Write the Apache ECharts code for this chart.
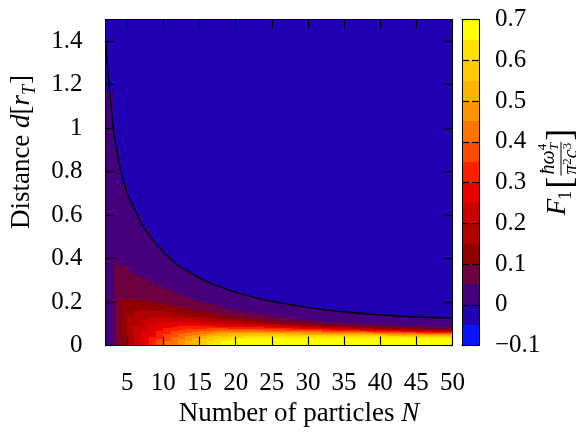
<!DOCTYPE html>
<html>
<head>
<meta charset="utf-8">
<script src="https://cdn.jsdelivr.net/npm/echarts@6/dist/echarts.min.js"></script>
<style>
  html, body { margin: 0; padding: 0; background: #ffffff; }
  #chart { width: 576px; height: 435px; }
</style>
</head>
<body>
<div id="chart"></div>
<script>
// Columns of the map: each cell spans [N, N+1] along the particle-number axis.
const columnN = [2,3,4,5,6,7,8,9,10,11,12,13,14,15,16,17,18,19,20,21,22,23,24,25,
  26,27,28,29,30,31,32,33,34,35,36,37,38,39,40,41,42,43,44,45,46,47,48,49];

// Height d at which F1 changes sign in each column (blue above, purple below).
const zeroTop = [1.17,0.91,0.75,0.66,0.595,0.535,0.49,0.45,0.415,0.385,0.36,0.34,0.32,0.302,
  0.287,0.274,0.262,0.25,0.24,0.23,0.222,0.214,0.206,0.2,0.194,0.188,0.182,0.177,0.173,0.168,
  0.164,0.16,0.156,0.153,0.15,0.147,0.144,0.142,0.14,0.138,0.136,0.134,0.132,0.13,0.129,0.128,
  0.127,0.127];

// Heights at which F1 passes 0.05, 0.10, ... 0.65 in each column (null: level not reached).
const cross005 = [null,0.385,0.365,0.345,0.325,0.305,0.288,0.273,0.258,0.244,0.231,0.219,0.208,
  0.198,0.189,0.181,0.174,0.167,0.161,0.155,0.149,0.144,0.139,0.134,0.13,0.126,0.122,0.119,
  0.116,0.113,0.11,0.108,0.106,0.104,0.102,0.1,0.098,0.097,0.095,0.094,0.093,0.092,0.091,0.09,
  0.089,0.088,0.087,0.086];
const cross010 = [null,null,0.21,0.215,0.21,0.205,0.2,0.194,0.187,0.18,0.173,0.166,0.16,0.154,
  0.148,0.143,0.138,0.133,0.129,0.125,0.121,0.118,0.115,0.112,0.109,0.106,0.104,0.102,0.1,
  0.098,0.096,0.094,0.092,0.09,0.089,0.087,0.086,0.085,0.084,0.083,0.082,0.081,0.08,0.079,
  0.078,0.078,0.077,0.077];
const cross015 = [null,null,null,0.14,0.16,0.163,0.161,0.157,0.152,0.147,0.142,0.137,0.133,
  0.129,0.125,0.122,0.119,0.116,0.113,0.11,0.107,0.105,0.103,0.1,0.098,0.096,0.094,0.092,0.09,
  0.089,0.087,0.086,0.084,0.083,0.082,0.08,0.079,0.078,0.077,0.076,0.075,0.074,0.073,0.072,
  0.072,0.071,0.07,0.07];
const cross020 = [null,null,null,null,0.09,0.118,0.128,0.13,0.129,0.127,0.124,0.121,0.118,
  0.115,0.112,0.109,0.106,0.104,0.102,0.1,0.098,0.096,0.094,0.093,0.091,0.089,0.088,0.086,
  0.085,0.083,0.082,0.081,0.079,0.078,0.077,0.076,0.075,0.074,0.073,0.072,0.071,0.07,0.069,
  0.068,0.068,0.067,0.066,0.066];
const cross025 = [null,null,null,null,null,0.06,0.088,0.1,0.106,0.107,0.107,0.105,0.103,0.101,
  0.099,0.097,0.095,0.094,0.093,0.092,0.091,0.09,0.088,0.087,0.086,0.084,0.083,0.082,0.081,
  0.079,0.078,0.077,0.076,0.075,0.074,0.073,0.072,0.071,0.07,0.069,0.068,0.067,0.066,0.065,
  0.065,0.064,0.063,0.063];
const cross030 = [null,null,null,null,null,null,0.04,0.068,0.08,0.087,0.09,0.091,0.09,0.089,
  0.088,0.087,0.087,0.086,0.085,0.085,0.084,0.083,0.082,0.081,0.08,0.079,0.078,0.077,0.076,
  0.075,0.074,0.073,0.072,0.071,0.07,0.069,0.068,0.068,0.067,0.066,0.065,0.064,0.064,0.063,
  0.062,0.061,0.06,0.06];
const cross035 = [null,null,null,null,null,null,null,0.03,0.053,0.065,0.071,0.075,0.077,0.078,
  0.079,0.079,0.079,0.078,0.078,0.077,0.077,0.076,0.075,0.075,0.074,0.073,0.072,0.071,0.07,
  0.07,0.069,0.068,0.067,0.066,0.066,0.065,0.064,0.063,0.063,0.062,0.061,0.06,0.06,0.059,
  0.058,0.058,0.057,0.057];
const cross040 = [null,null,null,null,null,null,null,null,0.02,0.04,0.052,0.059,0.064,0.067,
  0.069,0.07,0.071,0.071,0.071,0.071,0.07,0.07,0.069,0.069,0.068,0.067,0.067,0.066,0.065,
  0.065,0.064,0.063,0.063,0.062,0.061,0.061,0.06,0.059,0.059,0.058,0.058,0.057,0.056,0.056,
  0.055,0.055,0.054,0.054];
const cross045 = [null,null,null,null,null,null,null,null,null,null,0.03,0.042,0.05,0.055,
  0.059,0.061,0.063,0.064,0.064,0.064,0.064,0.064,0.063,0.063,0.062,0.062,0.061,0.061,0.06,
  0.06,0.059,0.058,0.058,0.057,0.057,0.056,0.056,0.055,0.055,0.054,0.054,0.053,0.053,0.052,
  0.052,0.051,0.051,0.051];
const cross050 = [null,null,null,null,null,null,null,null,null,null,null,0.02,0.035,0.043,
  0.049,0.052,0.055,0.056,0.057,0.057,0.057,0.057,0.057,0.057,0.056,0.056,0.056,0.055,0.055,
  0.054,0.054,0.053,0.053,0.053,0.052,0.052,0.051,0.051,0.051,0.05,0.05,0.05,0.049,0.049,
  0.049,0.048,0.048,0.048];
const cross055 = [null,null,null,null,null,null,null,null,null,null,null,null,null,0.028,0.037,
  0.042,0.046,0.048,0.05,0.05,0.051,0.051,0.051,0.051,0.051,0.05,0.05,0.05,0.05,0.049,0.049,
  0.049,0.048,0.048,0.048,0.047,0.047,0.047,0.047,0.046,0.046,0.046,0.046,0.045,0.045,0.045,
  0.045,0.045];
const cross060 = [null,null,null,null,null,null,null,null,null,null,null,null,null,null,0.02,
  0.029,0.036,0.039,0.041,0.042,0.043,0.044,0.044,0.044,0.044,0.044,0.044,0.044,0.044,0.044,
  0.043,0.043,0.043,0.043,0.043,0.042,0.042,0.042,0.042,0.042,0.042,0.041,0.041,0.041,0.041,
  0.041,0.041,0.041];
const cross065 = [null,null,null,null,null,null,null,null,null,null,null,null,null,null,null,
  null,0.02,0.026,0.03,0.032,0.033,0.034,0.035,0.035,0.035,0.036,0.036,0.036,0.036,0.036,
  0.036,0.036,0.036,0.036,0.036,0.036,0.036,0.035,0.035,0.035,0.035,0.035,0.035,0.035,0.035,
  0.035,0.035,0.035];

// Zero contour of F1 drawn as a black curve.
const contourN = [2,3,4,5,6,7,8,9,10,11,12,13,14,15,16,17,18,19,20,21,22,23,24,25,26,27,28,
  29,30,31,32,33,34,35,36,37,38,39,40,41,42,43,44,45,46,47,48,49,50];
const contourD = [1.40,1.02,0.82,0.70,0.63,0.56,0.51,0.47,0.43,0.40,0.37,0.35,0.33,0.31,0.295,
  0.28,0.268,0.256,0.245,0.235,0.226,0.218,0.21,0.203,0.197,0.191,0.185,0.18,0.175,0.171,
  0.166,0.162,0.158,0.155,0.152,0.149,0.146,0.143,0.141,0.139,0.137,0.135,0.133,0.131,0.13,
  0.129,0.128,0.127,0.127];

// Colour levels of the palette (16 steps of 0.05 from -0.1 to 0.7).
const levelEdges = [-0.1,-0.05,0,0.05,0.1,0.15,0.2,0.25,0.3,0.35,0.4,0.45,0.5,0.55,0.6,0.65,0.7];
const levelColors = ['#0a14ff','#2200b4','#46007c','#6c0040','#900000','#b00000','#cc0000',
  '#e80000','#ff1e00','#ff4a00','#ff7400','#ff9600','#ffb400','#ffcc00','#ffe200','#ffff00'];

// Tick marks and labels.
const xTicks = [5,10,15,20,25,30,35,40,45,50];
const yTicks = [0,0.2,0.4,0.6,0.8,1,1.2,1.4];
const cbTicks = [-0.1,0,0.1,0.2,0.3,0.4,0.5,0.6,0.7];

const X_MIN = 2, X_MAX = 50, Y_MIN = 0, Y_MAX = 1.5;
const FONT = 'Liberation Serif';
const TICK_FS = 25;
const TITLE_FS = 27;

// Build rectangles [n0, n1, d0, d1, value] from the level crossings.
const crossings = [zeroTop, cross005, cross010, cross015, cross020, cross025, cross030,
  cross035, cross040, cross045, cross050, cross055, cross060, cross065];
const cells = [];
columnN.forEach((n, i) => {
  cells.push([n, n + 1, zeroTop[i], Y_MAX, (levelEdges[1] + levelEdges[2]) / 2]);
  for (let k = 0; k < crossings.length; k++) {
    const top = crossings[k][i];
    if (top == null) break;
    const next = k + 1 < crossings.length ? crossings[k + 1][i] : null;
    const bottom = next == null ? Y_MIN : next;
    cells.push([n, n + 1, bottom, top, (levelEdges[k + 2] + levelEdges[k + 3]) / 2]);
  }
});

// Colour bar rectangles.
const barCells = levelColors.map((c, k) =>
  [0, 1, levelEdges[k], levelEdges[k + 1], (levelEdges[k] + levelEdges[k + 1]) / 2]);

function rectItem(params, api) {
  const a = api.coord([api.value(0), api.value(3)]);
  const b = api.coord([api.value(1), api.value(2)]);
  const x0 = Math.round(a[0]), y0 = Math.round(a[1]);
  const x1 = Math.round(b[0]), y1 = Math.round(b[1]);
  return {
    type: 'rect',
    shape: { x: x0, y: y0, width: x1 - x0, height: y1 - y0 },
    style: { fill: api.visual('color') }
  };
}

// Helper for mathematical labels: a row of text runs placed on a common baseline.
const measureCtx = document.createElement('canvas').getContext('2d');
function fontOf(size, italic) {
  return (italic ? 'italic ' : '') + size + 'px "' + FONT + '"';
}
function textWidth(t, size, italic) {
  measureCtx.font = fontOf(size, italic);
  return measureCtx.measureText(t).width;
}
function runs(parts, x0) {
  let x = x0 || 0;
  const out = [];
  parts.forEach(p => {
    out.push({
      type: 'text',
      x: x + (p.dx || 0),
      y: (p.dy || 0) - 0.34 * p.size,
      style: { text: p.t, font: fontOf(p.size, p.italic), fill: '#000',
        align: 'left', verticalAlign: 'middle' },
      silent: true
    });
    x += textWidth(p.t, p.size, p.italic) + (p.dx || 0);
  });
  return { elements: out, width: x - (x0 || 0) };
}
function shiftEls(els, dx, dy) {
  els.forEach(e => { e.x += dx; e.y += dy; });
  return els;
}

// y-axis title: Distance d[r_T]
const yTitle = runs([
  { t: 'Distance ', size: TITLE_FS },
  { t: 'd', size: TITLE_FS, italic: true },
  { t: '[', size: TITLE_FS },
  { t: 'r', size: TITLE_FS, italic: true },
  { t: 'T', size: 18, italic: true, dy: 5 },
  { t: ']', size: TITLE_FS, dx: 1 }
]);

// x-axis title: Number of particles N
const xTitle = runs([
  { t: 'Number of particles ', size: TITLE_FS },
  { t: 'N', size: TITLE_FS, italic: true }
]);

// Colour bar title: F_1 [ ħω_T^4 / π²c³ ]
const FR = 20, SC = 13;
const fPart = runs([
  { t: 'F', size: TITLE_FS, italic: true },
  { t: '1', size: 18, dy: 5, dx: -1 }
]);
const openX = fPart.width + 2;
const openB = runs([{ t: '[', size: 36, dy: 7 }], openX);
const fracX = openX + openB.width + 1;
const numA = runs([{ t: 'ħω', size: FR, italic: true }], 0);
const numSup = runs([{ t: '4', size: SC, dy: -9 }], 0);
const numSub = runs([{ t: 'T', size: SC, italic: true, dy: 3 }], 0);
const den = runs([
  { t: 'π', size: FR, italic: true },
  { t: '2', size: SC, dy: -7 },
  { t: 'c', size: FR, italic: true },
  { t: '3', size: SC, dy: -7 }
], 0);
const numW = numA.width + Math.max(numSup.width, numSub.width);
const fracW = Math.max(numW, den.width) + 2;
const numX = fracX + (fracW - numW) / 2;
const cbTitleEls = [].concat(
  fPart.elements,
  openB.elements,
  shiftEls(numA.elements, numX, -11),
  shiftEls(numSup.elements, numX + numA.width, -11),
  shiftEls(numSub.elements, numX + numA.width, -11),
  shiftEls(den.elements, fracX + (fracW - den.width) / 2, 12),
  [{ type: 'line', shape: { x1: fracX, y1: -6, x2: fracX + fracW, y2: -6 },
     style: { stroke: '#000', lineWidth: 1 }, silent: true }],
  runs([{ t: ']', size: 36, dy: 7 }], fracX + fracW + 1).elements
);
const cbTitleW = fracX + fracW + 1 + textWidth(']', 36, false);

const axisText = { fontFamily: FONT, fontSize: TICK_FS, color: '#000' };
const frameLine = { show: true, onZero: false, lineStyle: { color: '#000', width: 1 } };
const tickInside = (len, values) => ({
  show: true, inside: true, length: len, customValues: values,
  lineStyle: { color: '#000', width: 1.2 }
});

const chart = echarts.init(document.getElementById('chart'), null, { renderer: 'canvas' });
chart.setOption({
  animation: false,
  backgroundColor: '#ffffff',
  grid: [
    { left: 105.5, top: 19.5, width: 347, height: 326 },
    { left: 462, top: 19.5, width: 17, height: 326 }
  ],
  xAxis: [
    { gridIndex: 0, type: 'value', min: X_MIN, max: X_MAX, position: 'bottom', z: 10,
      splitLine: { show: false }, axisLine: frameLine, axisTick: tickInside(9, xTicks),
      axisLabel: Object.assign({ customValues: xTicks, margin: 25 }, axisText) },
    { gridIndex: 0, type: 'value', min: X_MIN, max: X_MAX, position: 'top', z: 10,
      splitLine: { show: false }, axisLine: frameLine, axisTick: tickInside(9, xTicks),
      axisLabel: { show: false } },
    { gridIndex: 1, type: 'value', min: 0, max: 1, position: 'bottom', z: 10,
      splitLine: { show: false }, axisLine: frameLine, axisTick: { show: false },
      axisLabel: { show: false } },
    { gridIndex: 1, type: 'value', min: 0, max: 1, position: 'top', z: 10,
      splitLine: { show: false }, axisLine: frameLine, axisTick: { show: false },
      axisLabel: { show: false } }
  ],
  yAxis: [
    { gridIndex: 0, type: 'value', min: Y_MIN, max: Y_MAX, position: 'left', z: 10,
      splitLine: { show: false }, axisLine: frameLine, axisTick: tickInside(9, yTicks),
      axisLabel: Object.assign({ customValues: yTicks, margin: 23 }, axisText) },
    { gridIndex: 0, type: 'value', min: Y_MIN, max: Y_MAX, position: 'right', z: 10,
      splitLine: { show: false }, axisLine: frameLine, axisTick: tickInside(9, yTicks),
      axisLabel: { show: false } },
    { gridIndex: 1, type: 'value', min: -0.1, max: 0.7, position: 'right', z: 10,
      splitLine: { show: false }, axisLine: frameLine, axisTick: tickInside(7, cbTicks),
      axisLabel: Object.assign({ customValues: cbTicks, margin: 16,
        formatter: v => String(Math.round(v * 10) / 10).replace('-', '\u2212') }, axisText) },
    { gridIndex: 1, type: 'value', min: -0.1, max: 0.7, position: 'left', z: 10,
      splitLine: { show: false }, axisLine: frameLine, axisTick: tickInside(7, cbTicks),
      axisLabel: { show: false } }
  ],
  visualMap: {
    type: 'piecewise', show: false, dimension: 4, seriesIndex: [0, 2],
    pieces: levelColors.map((c, k) => ({ gte: levelEdges[k], lt: levelEdges[k + 1], color: c }))
  },
  series: [
    { type: 'custom', xAxisIndex: 0, yAxisIndex: 0, data: cells, renderItem: rectItem,
      encode: { x: [0, 1], y: [2, 3] }, clip: true, silent: true, z: 1 },
    { type: 'line', xAxisIndex: 0, yAxisIndex: 0,
      data: contourN.map((n, i) => [n, contourD[i]]),
      symbol: 'none', smooth: 0.2, clip: true, silent: true, z: 5,
      lineStyle: { color: '#000', width: 1.4 } },
    { type: 'custom', xAxisIndex: 2, yAxisIndex: 2, data: barCells, renderItem: rectItem,
      encode: { x: [0, 1], y: [2, 3] }, silent: true, z: 1 }
  ],
  graphic: [
    { type: 'group', x: 31, y: 152 + yTitle.width / 2, rotation: Math.PI / 2,
      children: yTitle.elements },
    { type: 'group', x: 299 - xTitle.width / 2, y: 423, children: xTitle.elements },
    { type: 'group', x: 567, y: 172 + cbTitleW / 2, rotation: Math.PI / 2,
      children: cbTitleEls }
  ]
});
</script>
</body>
</html>
